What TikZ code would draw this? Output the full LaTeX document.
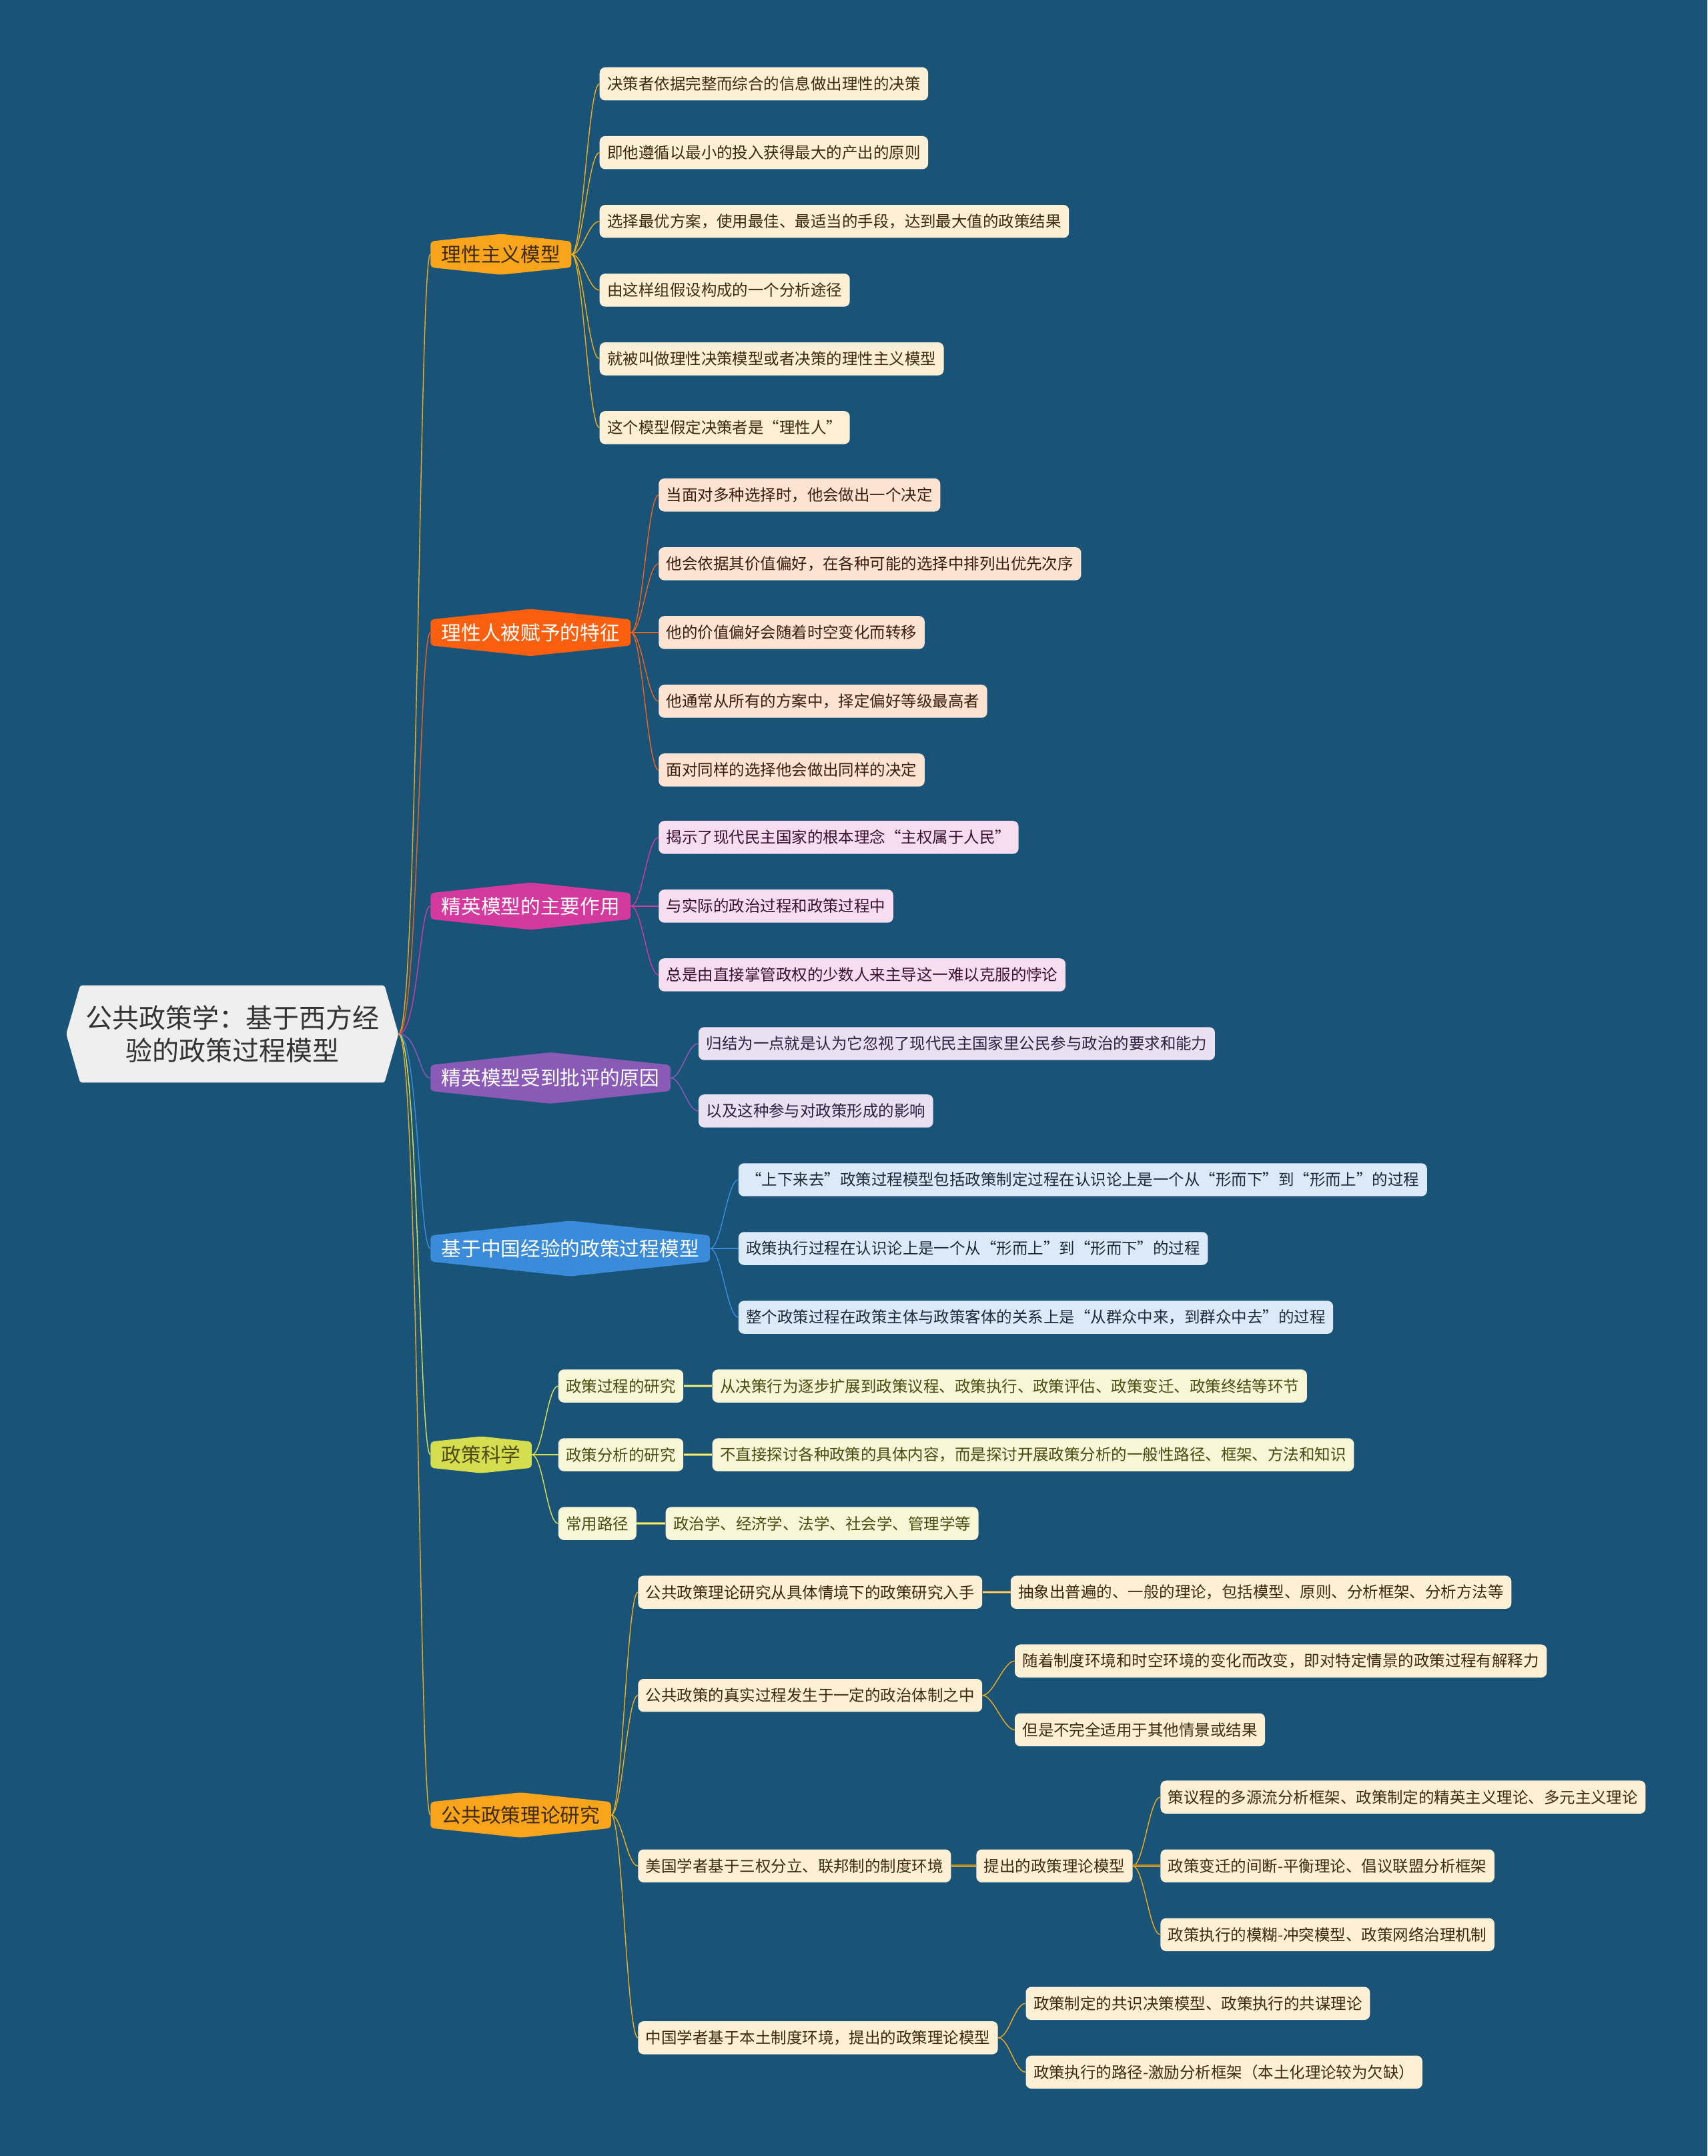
\documentclass[tikz,border=0pt]{standalone}
\usepackage{fontspec}
\setmainfont{Noto Sans CJK SC}
\usetikzlibrary{shapes.symbols}

\definecolor{bgblue}{HTML}{1A5378}
\definecolor{rootfill}{HTML}{EFEFEF}
% branch fills, leaf fills, leaf texts, lines
\definecolor{br1}{HTML}{F8A51C}\definecolor{lf1}{HTML}{FDF0D5}\definecolor{tx1}{HTML}{3E2A0F}\definecolor{ln1}{HTML}{E9AA1E}
\definecolor{br2}{HTML}{FA5F10}\definecolor{lf2}{HTML}{FDE3D2}\definecolor{tx2}{HTML}{3A1E0E}\definecolor{ln2}{HTML}{E8621C}
\definecolor{br3}{HTML}{D43A9E}\definecolor{lf3}{HTML}{F7DDF0}\definecolor{tx3}{HTML}{3A1030}\definecolor{ln3}{HTML}{C93C98}
\definecolor{br4}{HTML}{8A5AB7}\definecolor{lf4}{HTML}{E9E0F2}\definecolor{tx4}{HTML}{2E2040}\definecolor{ln4}{HTML}{8A5AB7}
\definecolor{br5}{HTML}{3A8BDA}\definecolor{lf5}{HTML}{DCEAF7}\definecolor{tx5}{HTML}{1E2A3A}\definecolor{ln5}{HTML}{3A8BDA}
\definecolor{br6}{HTML}{D5DE4E}\definecolor{lf6}{HTML}{F7F6D6}\definecolor{tx6}{HTML}{4B4A10}\definecolor{ln6}{HTML}{D5DE4E}
\definecolor{br7}{HTML}{F8A51C}\definecolor{lf7}{HTML}{FDF0D5}\definecolor{tx7}{HTML}{3E2A0F}\definecolor{ln7}{HTML}{E9AA1E}

\begin{document}
\begin{tikzpicture}[
  x=0.05cm, y=-0.05cm,
  rootbox/.style={shape=signal, signal to=east and west, signal pointer angle=148,
    fill=rootfill, text=black!80, align=center, inner xsep=0.2cm, inner ysep=0.72cm,
    rounded corners=0.08cm, font=\fontsize{27.6}{34}\selectfont},
  branch/.style={shape=signal, signal to=north and south, signal pointer angle=168,
    fill=br#1, inner xsep=0.4cm, inner ysep=0.14cm, rounded corners=0.12cm,
    anchor=west, font=\fontsize{20.5}{24}\selectfont},
  leaf/.style={fill=lf#1, text=tx#1, rounded corners=0.2cm, minimum height=1.2cm,
    inner xsep=0.28cm, inner ysep=0pt, anchor=west, font=\fontsize{16.2}{19}\selectfont},
  conn/.style={draw=ln#1, line width=1pt},
  dlink/.style={draw=ln#1!75!black, double=ln#1!55!white, double distance=1pt, line width=0.8pt},
]
\fill[bgblue] (0,0) rectangle (1242,1568);

\node[rootbox] (root) at (169,752) {公共政策学：基于西方经\\验的政策过程模型};

\node[branch=1, text=tx1] (b1) at (313,185) {理性主义模型};
\node[branch=2, text=white] (b2) at (313,460) {理性人被赋予的特征};
\node[branch=3, text=white] (b3) at (313,659) {精英模型的主要作用};
\node[branch=4, text=white] (b4) at (313,784) {精英模型受到批评的原因};
\node[branch=5, text=white] (b5) at (313,908) {基于中国经验的政策过程模型};
\node[branch=6, text=tx6] (b6) at (313,1058) {政策科学};
\node[branch=7, text=tx7] (b7) at (313,1320) {公共政策理论研究};

\foreach \b in {1,...,7}
  \draw[conn=\b] (root.east) .. controls +(14,0) and +(-8,0) .. (b\b.west);

\node[leaf=1] (l11) at (436,61) {决策者依据完整而综合的信息做出理性的决策};
\node[leaf=1] (l12) at (436,111) {即他遵循以最小的投入获得最大的产出的原则};
\node[leaf=1] (l13) at (436,161) {选择最优方案，使用最佳、最适当的手段，达到最大值的政策结果};
\node[leaf=1] (l14) at (436,211) {由这样组假设构成的一个分析途径};
\node[leaf=1] (l15) at (436,261) {就被叫做理性决策模型或者决策的理性主义模型};
\node[leaf=1] (l16) at (436,311) {这个模型假定决策者是“理性人”};
\foreach \n in {1,...,6}
  \draw[conn=1] (b1.east) .. controls +(8,0) and +(-8,0) .. (l1\n.west);

\node[leaf=2] (l21) at (479,360) {当面对多种选择时，他会做出一个决定};
\node[leaf=2] (l22) at (479,410) {他会依据其价值偏好，在各种可能的选择中排列出优先次序};
\node[leaf=2] (l23) at (479,460) {他的价值偏好会随着时空变化而转移};
\node[leaf=2] (l24) at (479,510) {他通常从所有的方案中，择定偏好等级最高者};
\node[leaf=2] (l25) at (479,560) {面对同样的选择他会做出同样的决定};
\foreach \n in {1,...,5}
  \draw[conn=2] (b2.east) .. controls +(8,0) and +(-8,0) .. (l2\n.west);

\node[leaf=3] (l31) at (479,609) {揭示了现代民主国家的根本理念“主权属于人民”};
\node[leaf=3] (l32) at (479,659) {与实际的政治过程和政策过程中};
\node[leaf=3] (l33) at (479,709) {总是由直接掌管政权的少数人来主导这一难以克服的悖论};
\foreach \n in {1,...,3}
  \draw[conn=3] (b3.east) .. controls +(8,0) and +(-8,0) .. (l3\n.west);

\node[leaf=4] (l41) at (508,759) {归结为一点就是认为它忽视了现代民主国家里公民参与政治的要求和能力};
\node[leaf=4] (l42) at (508,808) {以及这种参与对政策形成的影响};
\foreach \n in {1,2}
  \draw[conn=4] (b4.east) .. controls +(8,0) and +(-8,0) .. (l4\n.west);

\node[leaf=5] (l51) at (537,858) {“上下来去”政策过程模型包括政策制定过程在认识论上是一个从“形而下”到“形而上”的过程};
\node[leaf=5] (l52) at (537,908) {政策执行过程在认识论上是一个从“形而上”到“形而下”的过程};
\node[leaf=5] (l53) at (537,958) {整个政策过程在政策主体与政策客体的关系上是“从群众中来，到群众中去”的过程};
\foreach \n in {1,...,3}
  \draw[conn=5] (b5.east) .. controls +(8,0) and +(-8,0) .. (l5\n.west);

\node[leaf=6] (m61) at (406,1008) {政策过程的研究};
\node[leaf=6] (m62) at (406,1058) {政策分析的研究};
\node[leaf=6] (m63) at (406,1108) {常用路径};
\node[leaf=6] (n61) at (518,1008) {从决策行为逐步扩展到政策议程、政策执行、政策评估、政策变迁、政策终结等环节};
\node[leaf=6] (n62) at (518,1058) {不直接探讨各种政策的具体内容，而是探讨开展政策分析的一般性路径、框架、方法和知识};
\node[leaf=6] (n63) at (484,1108) {政治学、经济学、法学、社会学、管理学等};
\foreach \n in {1,...,3} {
  \draw[conn=6] (b6.east) .. controls +(8,0) and +(-8,0) .. (m6\n.west);
  \draw[dlink=6] (m6\n.east) -- (n6\n.west);
}

\node[leaf=7] (m71) at (464,1158) {公共政策理论研究从具体情境下的政策研究入手};
\node[leaf=7] (m72) at (464,1233) {公共政策的真实过程发生于一定的政治体制之中};
\node[leaf=7] (m73) at (464,1357) {美国学者基于三权分立、联邦制的制度环境};
\node[leaf=7] (m74) at (464,1482) {中国学者基于本土制度环境，提出的政策理论模型};
\foreach \n in {1,...,4}
  \draw[conn=7] (b7.east) .. controls +(8,0) and +(-8,0) .. (m7\n.west);

\node[leaf=7] (n71) at (735,1158) {抽象出普遍的、一般的理论，包括模型、原则、分析框架、分析方法等};
\draw[dlink=7] (m71.east) -- (n71.west);

\node[leaf=7] (n72a) at (738,1208) {随着制度环境和时空环境的变化而改变，即对特定情景的政策过程有解释力};
\node[leaf=7] (n72b) at (738,1258) {但是不完全适用于其他情景或结果};
\draw[conn=7] (m72.east) .. controls +(8,0) and +(-8,0) .. (n72a.west);
\draw[conn=7] (m72.east) .. controls +(8,0) and +(-8,0) .. (n72b.west);

\node[leaf=7] (p73) at (710,1357) {提出的政策理论模型};
\draw[dlink=7] (m73.east) -- (p73.west);
\node[leaf=7] (n73a) at (844,1307) {策议程的多源流分析框架、政策制定的精英主义理论、多元主义理论};
\node[leaf=7] (n73b) at (844,1357) {政策变迁的间断-平衡理论、倡议联盟分析框架};
\node[leaf=7] (n73c) at (844,1407) {政策执行的模糊-冲突模型、政策网络治理机制};
\draw[conn=7] (p73.east) .. controls +(8,0) and +(-8,0) .. (n73a.west);
\draw[dlink=7] (p73.east) -- (n73b.west);
\draw[conn=7] (p73.east) .. controls +(8,0) and +(-8,0) .. (n73c.west);

\node[leaf=7] (n74a) at (746,1457) {政策制定的共识决策模型、政策执行的共谋理论};
\node[leaf=7] (n74b) at (746,1507) {政策执行的路径-激励分析框架（本土化理论较为欠缺）};
\draw[conn=7] (m74.east) .. controls +(8,0) and +(-8,0) .. (n74a.west);
\draw[conn=7] (m74.east) .. controls +(8,0) and +(-8,0) .. (n74b.west);
\end{tikzpicture}
\end{document}
